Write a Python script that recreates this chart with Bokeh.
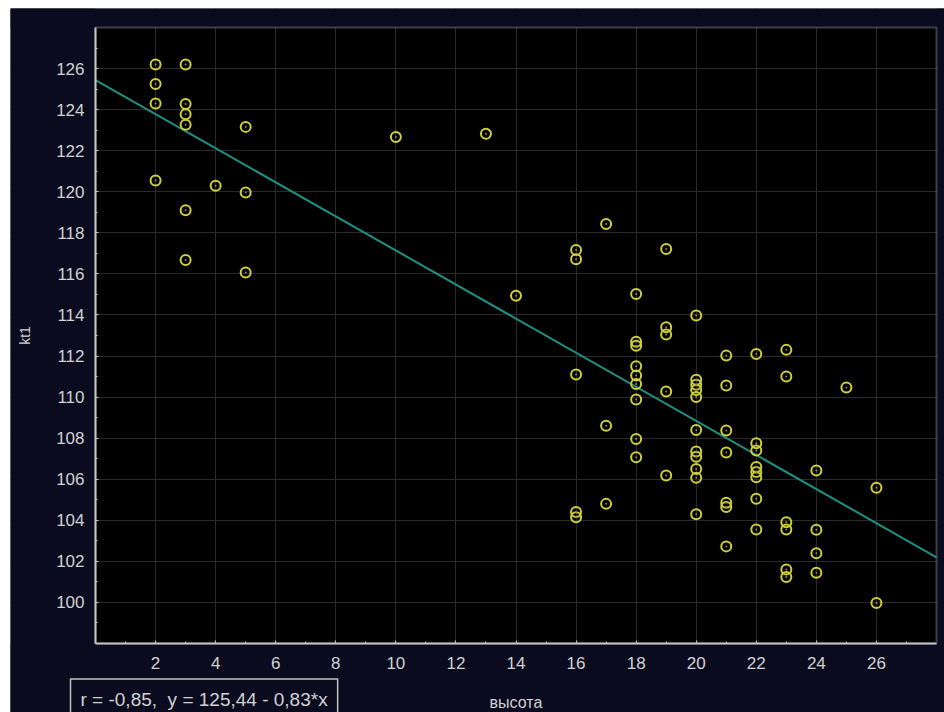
from bokeh.plotting import figure
from bokeh.models import Range1d, FixedTicker, Label, BoxAnnotation
from bokeh.embed import file_html
from bokeh.resources import INLINE

# ---- data ----
x_height = (
    [2, 2, 2, 2]
    + [3, 3, 3, 3, 3, 3]
    + [4]
    + [5, 5, 5]
    + [10]
    + [13]
    + [14]
    + [16, 16, 16, 16, 16]
    + [17, 17, 17]
    + [18] * 9
    + [19] * 5
    + [20] * 11
    + [21] * 7
    + [22] * 8
    + [23] * 6
    + [24] * 4
    + [25]
    + [26, 26]
)
y_kt1 = (
    [126.2, 125.25, 124.3, 120.55]
    + [126.2, 124.27, 123.78, 123.26, 119.1, 116.68]
    + [120.29]
    + [123.16, 119.97, 116.07]
    + [122.67]
    + [122.82]
    + [114.94]
    + [117.16, 116.71, 111.1, 104.4, 104.15]
    + [118.43, 108.6, 104.8]
    + [115.02, 112.7, 112.5, 111.5, 111.05, 110.64, 109.88, 107.96, 107.07]
    + [117.21, 113.4, 113.05, 110.27, 106.18]
    + [113.97, 110.85, 110.6, 110.35, 110.0, 108.4, 107.35, 107.1, 106.5, 106.07, 104.3]
    + [112.02, 110.56, 108.37, 107.3, 104.85, 104.65, 102.73]
    + [112.1, 107.75, 107.4, 106.6, 106.35, 106.1, 105.05, 103.55]
    + [112.3, 111.0, 103.9, 103.55, 101.6, 101.24]
    + [106.42, 103.54, 102.4, 101.45]
    + [110.47]
    + [105.58, 99.97]
)
fit_intercept = 125.44
fit_slope = -0.83
x_ticks = list(range(2, 27, 2))
y_ticks = list(range(100, 127, 2))
x_title = "высота"
y_title = "kt1"
fit_text = "r = -0,85,\u00a0 y = 125,44 - 0,83*x"

X_MIN, X_MAX = 0, 28
Y_MIN, Y_MAX = 98, 128

# ---- layout (pixels) ----
FIG_W, FIG_H = 934, 704
PAD_L, PAD_R, PAD_T, PAD_B = 85, 8, 19, 69          # plot area inside the panel
AREA_W = FIG_W - PAD_L - PAD_R
AREA_H = FIG_H - PAD_T - PAD_B
PXX = AREA_W / (X_MAX - X_MIN)
PXY = AREA_H / (Y_MAX - Y_MIN)

NAVY = "#0a0b1f"
FRAME = "#c4c4c4"
TXT = "#d2d2d2"
FONT = "Liberation Sans"

p = figure(
    width=FIG_W, height=FIG_H, margin=(8, 0, 0, 10), title=None,
    output_backend="svg", toolbar_location=None,
    x_range=Range1d(X_MIN - PAD_L / PXX, X_MAX + PAD_R / PXX),
    y_range=Range1d(Y_MIN - PAD_B / PXY, Y_MAX + PAD_T / PXY),
    background_fill_color="#000000", border_fill_color=NAVY,
    min_border=0,
)
p.outline_line_color = None

p.xaxis.fixed_location = Y_MIN
p.yaxis.fixed_location = X_MIN
p.xaxis.bounds = (X_MIN, X_MAX)
p.yaxis.bounds = (Y_MIN, Y_MAX)
p.xaxis.ticker = FixedTicker(ticks=x_ticks, minor_ticks=list(range(1, 28)))
p.yaxis.ticker = FixedTicker(ticks=y_ticks, minor_ticks=list(range(99, 128)))

for ax in (p.xaxis, p.yaxis):
    ax.axis_line_color = FRAME
    ax.axis_line_width = 2
    ax.major_tick_line_color = FRAME
    ax.minor_tick_line_color = FRAME
    ax.major_tick_in = 3
    ax.major_tick_out = 0
    ax.minor_tick_in = 2
    ax.minor_tick_out = 0
    ax.major_label_text_color = TXT
    ax.major_label_text_font = FONT
    ax.major_label_text_font_size = "17px"
    ax.axis_label_text_color = TXT
    ax.axis_label_text_font = FONT
    ax.axis_label_text_font_style = "normal"

p.xaxis.axis_label_text_font_size = "16px"
p.yaxis.axis_label_text_font_size = "14px"
p.xaxis.major_label_standoff = 13
p.yaxis.major_label_standoff = 11
p.xaxis.axis_label = x_title
p.yaxis.axis_label = y_title
p.xaxis.axis_label_standoff = 22
p.yaxis.axis_label_standoff = 20

p.grid.grid_line_color = "#2a2a2a"
p.grid.grid_line_width = 1

# navy surround outside the black plot area (covers grid-line overhang)
for kw in (dict(top=Y_MIN), dict(bottom=Y_MAX), dict(right=X_MIN), dict(left=X_MAX)):
    p.add_layout(BoxAnnotation(fill_color=NAVY, fill_alpha=1, line_color=None,
                               level="underlay", **kw))
# plot area border
p.add_layout(BoxAnnotation(left=X_MIN, right=X_MAX, bottom=Y_MIN, top=Y_MAX,
                           fill_alpha=0, line_color=FRAME, line_width=2,
                           level="underlay"))

# regression line from the fitted equation
fit_x = [X_MIN, X_MAX]
fit_y = [fit_intercept + fit_slope * v for v in fit_x]
p.line(fit_x, fit_y, line_color="#1f8f82", line_width=2)

p.scatter(x_height, y_kt1, marker="circle", size=10, fill_color=None,
          line_color="#cfcf3a", line_width=2)
p.scatter(x_height, y_kt1, marker="circle", size=2, fill_color="#8c8c30",
          line_color=None)

# equation box below the plot area
lab = Label(
    x=X_MIN - 25 / PXX, y=Y_MIN - 56 / PXY, x_units="data", y_units="data",
    level="overlay",
    text=fit_text, text_baseline="middle", text_align="left",
    text_color=TXT, text_font=FONT, text_font_size="19px",
    border_line_color=FRAME, border_line_width=1.5,
    background_fill_color=NAVY, padding=10,
)
p.add_layout(lab)

open("out.html", "w").write(file_html(p, INLINE))
